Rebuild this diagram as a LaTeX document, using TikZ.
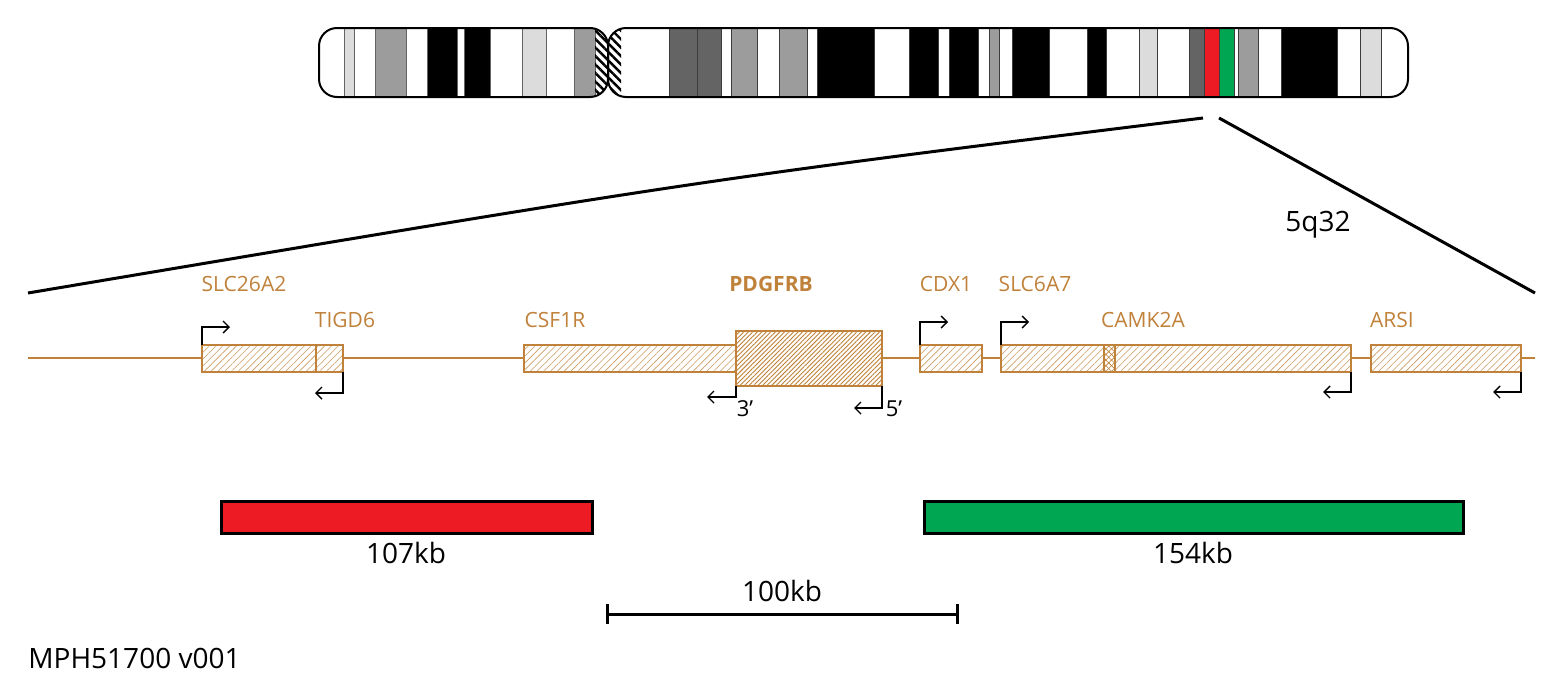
\documentclass[tikz,border=0pt]{standalone}
\usepackage{fontspec}
\setmainfont{Open Sans}
\usetikzlibrary{patterns.meta,arrows.meta}
\definecolor{gene}{HTML}{C0813A}
\definecolor{lg}{HTML}{DCDCDC}
\definecolor{mg}{HTML}{9C9C9C}
\definecolor{dg}{HTML}{646464}
\definecolor{rd}{HTML}{ED1C24}
\definecolor{gn}{HTML}{00A651}
\begin{document}
\begin{tikzpicture}[x=0.5pt,y=-0.5pt,
  glabel/.style={text=gene,font=\fontsize{10.5}{12}\selectfont,inner sep=0},
  gbox/.style={draw=gene,line width=1pt,preaction={fill=white},pattern={Lines[angle=45,distance=2.4pt,line width=0.3pt]},pattern color=gene!80},
  gboxd/.style={draw=gene,line width=1pt,preaction={fill=white},pattern={Lines[angle=45,distance=1.6pt,line width=0.45pt]},pattern color=gene},
  tss/.style={line width=0.7pt,-{Straight Barb[length=3pt,width=6pt]}},
  lab/.style={font=\fontsize{14}{16}\selectfont,inner sep=0}]
\useasboundingbox (0,0) rectangle (1568,691);
% chromosome
\begin{scope}
\clip[rounded corners=9pt] (319,28) rectangle (608,97);
\fill[white] (319,28) rectangle (608,97);
\foreach \a/\b/\c in {344/354/lg,375/406/mg,427/457/black,464/490/black,522/546/lg,574/595/mg}
  \filldraw[draw=dg,line width=0.5pt,fill=\c] (\a,28) rectangle (\b,97);
\fill[pattern={Lines[angle=-45,distance=3pt,line width=1.2pt]}] (595,28) rectangle (608,97);
\end{scope}
\begin{scope}
\clip[rounded corners=9pt] (608,28) rectangle (1408,97);
\fill[white] (608,28) rectangle (1408,97);
\foreach \a/\b/\c in {669/697/dg,697/721/dg,731/757/mg,779/807/mg,817/874/black,909/938/black,949/978/black,989/999/mg,1012/1049/black,1087/1106/black,1139/1157/lg,1189/1204/dg,1204/1219/rd,1219/1234/gn,1238/1258/mg,1281/1337/black,1360/1381/lg}
  \filldraw[draw=dg!60!black,line width=0.5pt,fill=\c] (\a,28) rectangle (\b,97);
\fill[pattern={Lines[angle=-45,distance=3pt,line width=1.2pt]}] (608,28) rectangle (621,97);
\end{scope}
\draw[line width=1pt,rounded corners=9pt] (319,28) rectangle (608,97);
\draw[line width=1pt,rounded corners=9pt] (608,28) rectangle (1408,97);
% zoom lines
\coordinate (zl1) at (1203,118); \coordinate (zl2) at (28,293);
\coordinate (zr1) at (1219,118); \coordinate (zr2) at (1535,293);
\draw[line width=1.5pt] (zl1) .. controls (700,180) .. (zl2);
\draw[line width=1.5pt] (zr1) -- (zr2);
\node[lab] (band) at (1318,225) {5q32};
% genes
\coordinate (ls) at (28,358); \coordinate (le) at (1535,358);
\draw[gene,line width=1pt] (ls) -- (le);
\path[gbox] (202,345) rectangle (316,372);
\path[gbox] (316,345) rectangle (343,372);
\path[gbox] (524,345) rectangle (736,372);
\path[gboxd] (736,331) rectangle (882,386);
\path[gbox] (920,345) rectangle (982,372);
\path[gbox] (1001,345) rectangle (1351,372);
\path[draw=gene,line width=1pt,preaction={fill=white},pattern={Lines[angle=45,distance=2pt,line width=0.3pt]},pattern color=gene] (1104,345) rectangle (1115,372);
\path[pattern={Lines[angle=-45,distance=2pt,line width=0.3pt]},pattern color=gene] (1104,345) rectangle (1115,372);
\path[gbox] (1371,345) rectangle (1521,372);
% tss arrows
\draw[tss] (202,345) |- (230,327);
\draw[tss] (920,345) |- (948,322);
\draw[tss] (1001,345) |- (1029,322);
\draw[tss] (343,372) |- (315,393);
\draw[tss] (736,386) |- (707,397);
\draw[tss] (882,386) |- (854,408);
\draw[tss] (1351,372) |- (1323,392);
\draw[tss] (1521,372) |- (1493,392);
\node[lab,font=\fontsize{11}{13}\selectfont] (p3) at (745,409) {3'};
\node[lab,font=\fontsize{11}{13}\selectfont] (p5) at (894,409) {5'};
% gene labels
\node[glabel] (g1) at (244,284) {SLC26A2};
\node[glabel] (g2) at (345,320) {TIGD6};
\node[glabel] (g3) at (555,320) {CSF1R};
\node[glabel,font=\fontsize{10.5}{12}\selectfont\bfseries] (g4) at (771,284) {PDGFRB};
\node[glabel] (g5) at (946,284) {CDX1};
\node[glabel] (g6) at (1035,284) {SLC6A7};
\node[glabel] (g7) at (1143,320) {CAMK2A};
\node[glabel] (g8) at (1392,320) {ARSI};
% probes
\filldraw[fill=rd,line width=1.5pt] (221,501) rectangle (592,533);
\node[lab] (p1) at (406,553) {107kb};
\filldraw[fill=gn,line width=1.5pt] (924,501) rectangle (1463,533);
\node[lab] (p2) at (1193,553) {154kb};
% scale
\coordinate (s1) at (607,614); \coordinate (s2) at (957,614);
\draw[line width=1.5pt] (s1) -- (s2);
\draw[line width=1.5pt] (607,604) -- (607,624) (957,604) -- (957,624);
\node[lab] (sc) at (782,591) {100kb};
\node[lab,anchor=west] (id) at (28,658) {MPH51700 v001};
\end{tikzpicture}
\end{document}
